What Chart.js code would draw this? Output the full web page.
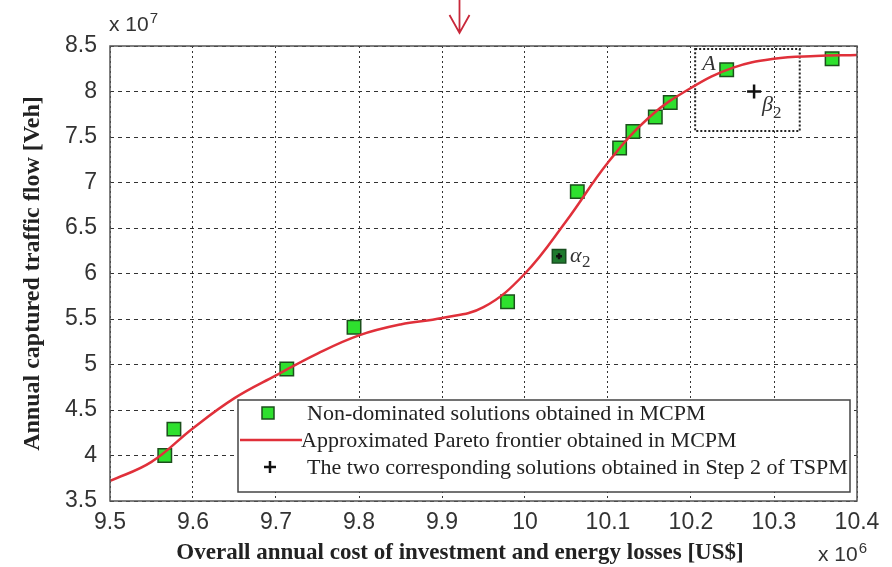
<!DOCTYPE html>
<html><head><meta charset="utf-8">
<script src="https://cdn.jsdelivr.net/npm/chart.js@4.4.0/dist/chart.umd.min.js"></script>
<style>html,body{margin:0;padding:0;background:#fff;overflow:hidden}#wrap{width:892px;height:567px}</style>
</head><body><div id="wrap"><canvas id="c" width="892" height="567"></canvas></div>
<script>
// ---- data ----
const xTicks = [9.5, 9.6, 9.7, 9.8, 9.9, 10.0, 10.1, 10.2, 10.3, 10.4];
const xTickLabels = ['9.5','9.6','9.7','9.8','9.9','10','10.1','10.2','10.3','10.4'];
const yTicks = [3.5, 4, 4.5, 5, 5.5, 6, 6.5, 7, 7.5, 8, 8.5];
const yTickLabels = ['3.5','4','4.5','5','5.5','6','6.5','7','7.5','8','8.5'];

// Non-dominated solutions (MCPM)  cost x1e6, flow x1e7
const solCost = [9.566, 9.577, 9.713, 9.794, 9.979, 10.063, 10.114, 10.130, 10.157, 10.175, 10.243, 10.370];
const solFlow = [4.00, 4.29, 4.95, 5.41, 5.69, 6.90, 7.38, 7.56, 7.72, 7.88, 8.24, 8.36];

// Approximated Pareto frontier (MCPM)
const frontCost = [9.50, 9.55, 9.60, 9.65, 9.70, 9.75, 9.80, 9.85, 9.90, 9.95, 10.00, 10.05, 10.10, 10.15, 10.20, 10.25, 10.30, 10.35, 10.40];
const frontFlow = [3.72, 3.93, 4.30, 4.63, 4.88, 5.12, 5.32, 5.44, 5.51, 5.63, 6.00, 6.58, 7.22, 7.72, 8.04, 8.26, 8.36, 8.39, 8.40];

// Two corresponding solutions (Step 2 of TSPM)
const tspmCost = [10.041, 10.276];
const tspmFlow = [6.19, 8.00];

// dotted region A
const boxCost = [10.205, 10.331];
const boxFlow = [7.566, 8.467];

const legendLabels = ['Non-dominated solutions obtained in MCPM','Approximated Pareto frontier obtained in MCPM','The two corresponding solutions obtained in Step 2 of TSPM'];
const xTitle = 'Overall annual cost of investment and energy losses [US$]';
const yTitle = 'Annual captured traffic flow [Veh]';

const pts = (xs, ys) => xs.map((v, i) => ({x: v, y: ys[i]}));

const GREEN = '#2ee02e', GREEN_EDGE = '#1c4f1c', RED = '#e0303a';
const SERIF = '"Liberation Serif", "DejaVu Serif", serif';
const SANS = '"Liberation Sans", Arial, sans-serif';

function expLabel(ctx, base, sup, x, y) {
  ctx.font = '21px ' + SANS;
  ctx.fillText(base, x, y);
  const w = ctx.measureText(base).width;
  ctx.font = '15px ' + SANS;
  ctx.fillText(sup, x + w + 1, y - 8);
}

const overlay = {
  id: 'overlay',
  beforeDatasetsDraw(chart) {
    const {ctx, scales: {x, y}} = chart;
    const l = x.getPixelForValue(boxCost[0]), r = x.getPixelForValue(boxCost[1]);
    const t = y.getPixelForValue(boxFlow[1]), b = y.getPixelForValue(boxFlow[0]);
    ctx.save();
    ctx.setLineDash([2, 2]);
    ctx.lineWidth = 2;
    ctx.strokeStyle = '#222';
    ctx.strokeRect(l, t, r - l, b - t);
    ctx.restore();
  },
  afterDatasetsDraw(chart) {
    const {ctx, scales: {x, y}} = chart;
    ctx.save();
    ctx.fillStyle = '#333';
    ctx.textBaseline = 'alphabetic';
    const bl = x.getPixelForValue(boxCost[0]), bt = y.getPixelForValue(boxFlow[1]);
    ctx.font = 'italic 22px ' + SERIF;
    ctx.fillText('A', bl + 7, bt + 21);
    const ax = x.getPixelForValue(tspmCost[0]), ay = y.getPixelForValue(tspmFlow[0]);
    ctx.font = 'italic 22px ' + SERIF;
    ctx.fillText('α', ax + 11, ay + 6);
    ctx.font = '17px ' + SERIF;
    ctx.fillText('2', ax + 23, ay + 11);
    const px = x.getPixelForValue(tspmCost[1]), py = y.getPixelForValue(tspmFlow[1]);
    ctx.font = 'italic 22px ' + SERIF;
    ctx.fillText('β', px + 8, py + 19);
    ctx.font = '17px ' + SERIF;
    ctx.fillText('2', px + 19, py + 26);
    ctx.restore();
  },
  afterDraw(chart) {
    const {ctx, chartArea: ca} = chart;
    ctx.save();
    ctx.setLineDash([]);
    ctx.strokeStyle = '#555';
    ctx.lineWidth = 1.5;
    ctx.strokeRect(ca.left, ca.top, ca.right - ca.left, ca.bottom - ca.top);
    // legend box
    const L = {x: 238, y: 400, w: 612, h: 92};
    ctx.fillStyle = '#fff';
    ctx.fillRect(L.x, L.y, L.w, L.h);
    ctx.strokeStyle = '#444';
    ctx.lineWidth = 1.5;
    ctx.strokeRect(L.x, L.y, L.w, L.h);
    const rows = [L.y + 13, L.y + 40, L.y + 67];
    ctx.fillStyle = GREEN; ctx.strokeStyle = GREEN_EDGE; ctx.lineWidth = 1.5;
    ctx.fillRect(262, rows[0] - 6, 12, 12); ctx.strokeRect(262, rows[0] - 6, 12, 12);
    ctx.strokeStyle = RED; ctx.lineWidth = 2.5;
    ctx.beginPath(); ctx.moveTo(240, rows[1]); ctx.lineTo(302, rows[1]); ctx.stroke();
    ctx.strokeStyle = '#111'; ctx.lineWidth = 2.5;
    ctx.beginPath(); ctx.moveTo(264, rows[2]); ctx.lineTo(276, rows[2]); ctx.moveTo(270, rows[2] - 6); ctx.lineTo(270, rows[2] + 6); ctx.stroke();
    ctx.fillStyle = '#222';
    ctx.font = '22px ' + SERIF;
    ctx.textBaseline = 'middle';
    ctx.fillText(legendLabels[0], 307, rows[0] + 1);
    ctx.fillText(legendLabels[1], 301, rows[1] + 1);
    ctx.fillText(legendLabels[2], 307, rows[2] + 1);
    // x title
    ctx.font = 'bold 23px ' + SERIF;
    ctx.textAlign = 'center';
    ctx.fillText(xTitle, 460, 553);
    // exponents
    ctx.textAlign = 'left';
    ctx.textBaseline = 'alphabetic';
    ctx.fillStyle = '#333';
    expLabel(ctx, 'x 10', '7', 109, 31);
    expLabel(ctx, 'x 10', '6', 818, 561);
    // red arrow
    ctx.strokeStyle = '#c8283a';
    ctx.lineWidth = 1.8;
    ctx.beginPath();
    ctx.moveTo(459.5, 0); ctx.lineTo(459.5, 33);
    ctx.moveTo(449.5, 15); ctx.lineTo(459.5, 33); ctx.lineTo(469.5, 15);
    ctx.stroke();
    ctx.restore();
  }
};

new Chart(document.getElementById('c'), {
  type: 'scatter',
  data: {
    datasets: [
      {
        label: legendLabels[1], type: 'line', data: pts(frontCost, frontFlow),
        borderColor: RED, borderWidth: 2.5, pointRadius: 0, fill: false,
        tension: 0.4, order: 1
      },
      {
        label: legendLabels[0], data: pts(solCost, solFlow),
        pointStyle: 'rect', pointRadius: 9.5, pointBackgroundColor: GREEN,
        pointBorderColor: GREEN_EDGE, pointBorderWidth: 1.5, order: 3
      },
      {
        label: 'alpha2 base', data: pts(tspmCost.slice(0, 1), tspmFlow.slice(0, 1)),
        pointStyle: 'rect', pointRadius: 9.5, pointBackgroundColor: '#1f7a2e',
        pointBorderColor: '#174d1f', pointBorderWidth: 1.5, order: 2
      },
      {
        label: legendLabels[2], data: pts(tspmCost, tspmFlow),
        pointStyle: 'cross', pointRadius: [3, 7], pointBorderColor: '#111',
        pointBorderWidth: [2.5, 2.5], order: 0
      }
    ]
  },
  options: {
    responsive: false, animation: false, devicePixelRatio: 1,
    layout: {padding: {left: 0, right: 35, top: 46, bottom: 0}},
    plugins: {legend: {display: false}, tooltip: {enabled: false}},
    scales: {
      x: {
        type: 'linear', min: 9.5, max: 10.4,
        afterBuildTicks: s => { s.ticks = xTicks.map(v => ({value: v})); },
        afterFit: s => { s.height = 66; },
        ticks: {callback: (v, i) => xTickLabels[i], font: {family: SANS, size: 23}, color: '#333', padding: 8, maxRotation: 0, autoSkip: false},
        grid: {color: '#333', lineWidth: 1, drawTicks: false},
        border: {display: false, dash: [2, 3]}
      },
      y: {
        type: 'linear', min: 3.5, max: 8.5,
        afterBuildTicks: s => { s.ticks = yTicks.map(v => ({value: v})); },
        afterFit: s => { s.width = 110; },
        ticks: {callback: (v, i) => yTickLabels[i], font: {family: SANS, size: 23}, color: '#333', padding: 13, autoSkip: false},
        grid: {color: '#333', lineWidth: 1, drawTicks: false},
        border: {display: false, dash: [4, 4]},
        title: {display: true, text: yTitle, font: {family: SERIF, size: 24, weight: 'bold'}, color: '#222', padding: {top: 18, bottom: 0}}
      }
    }
  },
  plugins: [overlay]
});
</script>
</body></html>
